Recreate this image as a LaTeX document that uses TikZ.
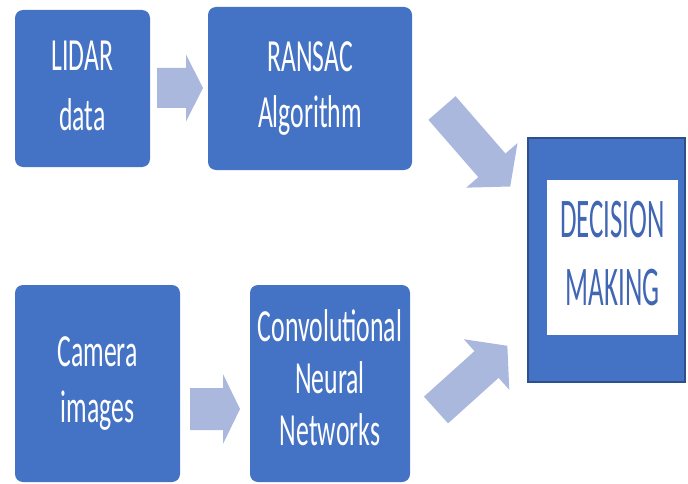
\documentclass[tikz,border=0pt]{standalone}
\usepackage{fontspec}
\usepackage{graphicx}
\setmainfont{Carlito}
\definecolor{boxblue}{HTML}{4472C4}
\definecolor{boxedge}{HTML}{2F4E8C}
\definecolor{arrowblue}{HTML}{AAB8DE}
\definecolor{decblue}{HTML}{4166B4}
\newcommand\sqtext[3]{\scalebox{#1}[1]{\fontsize{#2}{#3}\selectfont\begin{tabular}{@{}c@{}}}}
\newcommand\sqend{\end{tabular}}
\begin{document}
\begin{tikzpicture}[x=1pt,y=-1pt,
  bluebox/.style={fill=boxblue, rounded corners=8pt, inner sep=0pt, text=white, anchor=center},
  blockarr/.style={fill=arrowblue, draw=none}]
\useasboundingbox (0,0) rectangle (688,484);
\node[bluebox, minimum width=135pt, minimum height=157pt] (lidar) at (82.5,88.5)
  {\scalebox{0.56}[1]{\fontsize{46}{60}\selectfont\begin{tabular}{@{}c@{}}LIDAR\\data\end{tabular}}};
\node[bluebox, minimum width=204pt, minimum height=163pt] (ransac) at (310,88.5)
  {\scalebox{0.56}[1]{\fontsize{46}{56}\selectfont\begin{tabular}{@{}c@{}}RANSAC\\Algorithm\end{tabular}}};
\node[bluebox, minimum width=165pt, minimum height=197pt] (camera) at (97.5,383.5)
  {\scalebox{0.56}[1]{\fontsize{46}{56}\selectfont\begin{tabular}{@{}c@{}}Camera\\images\end{tabular}}};
\node[bluebox, minimum width=160pt, minimum height=197pt] (cnn) at (330,383.5)
  {\scalebox{0.56}[1]{\fontsize{46}{52}\selectfont\begin{tabular}{@{}c@{}}Convolutional\\Neural\\Networks\end{tabular}}};
\node[fill=boxblue, draw=boxedge, line width=1.5pt, minimum width=157pt, minimum height=244pt, inner sep=0pt] (decision) at (606.5,260) {};
\node[fill=white, minimum width=131pt, minimum height=155pt, inner sep=0pt, text=decblue] (decin) at (612.5,257.5)
  {\scalebox{0.48}[1]{\fontsize{56}{68}\selectfont\begin{tabular}{@{}c@{}}DECISION\\MAKING\end{tabular}}};
% block arrows
\begin{scope}[shift={(157,88)}]
  \fill[blockarr] (0,-20) -- (29,-20) -- (29,-33.5) -- (46,0) -- (29,33.5) -- (29,20) -- (0,20) -- cycle;
\end{scope}
\begin{scope}[shift={(190,409)}]
  \fill[blockarr] (0,-21) -- (33,-21) -- (33,-35) -- (50,0) -- (33,35) -- (33,21) -- (0,21) -- cycle;
\end{scope}
\begin{scope}[shift={(442,108)}, rotate=-49]
  \fill[blockarr] (0,-18) -- (76,-18) -- (76,-34) -- (104,0) -- (76,34) -- (76,18) -- (0,18) -- cycle;
\end{scope}
\begin{scope}[shift={(436,410)}, rotate=42]
  \fill[blockarr] (0,-18) -- (68,-18) -- (68,-34) -- (96,0) -- (68,34) -- (68,18) -- (0,18) -- cycle;
\end{scope}
\end{tikzpicture}
\end{document}
